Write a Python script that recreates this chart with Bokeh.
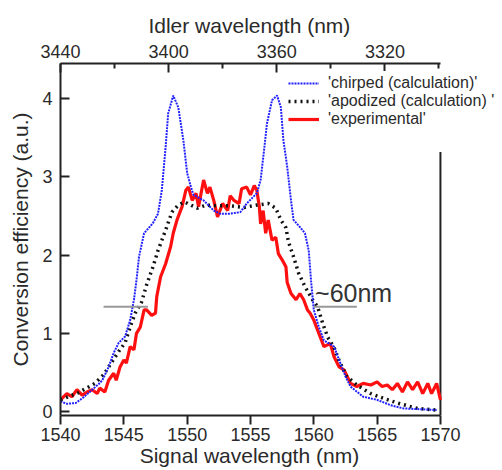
from bokeh.plotting import figure
from bokeh.models import Range1d, LinearAxis, FixedTicker, Legend, LegendItem, Label
from bokeh.embed import file_html
from bokeh.resources import INLINE

# ---- data ----
chirped_x = [1540.0, 1540.5, 1541.2, 1541.8, 1542.5, 1543.0, 1543.3, 1543.8, 1544.2, 1544.6,
             1545.1, 1545.5, 1545.8, 1546.0, 1546.2, 1546.6, 1547.3, 1547.7, 1548.0, 1548.3,
             1548.5, 1548.9, 1549.3, 1549.7, 1550.0, 1550.3, 1550.5, 1551.3, 1552.1, 1552.6,
             1553.4, 1554.2, 1554.7, 1555.5, 1555.8, 1556.1, 1556.3, 1556.7, 1557.1, 1557.4,
             1557.6, 1557.9, 1558.2, 1558.4, 1558.9, 1559.3, 1559.6, 1559.8, 1560.0, 1560.4,
             1560.8, 1561.6, 1562.0, 1562.5, 1562.9, 1563.9, 1565.0, 1566.1, 1567.1, 1568.5,
             1569.7]
chirped_y = [0.13, 0.10, 0.11, 0.18, 0.28, 0.35, 0.40, 0.57, 0.75, 0.88,
             0.96, 1.17, 1.43, 1.68, 1.98, 2.28, 2.41, 2.53, 2.83, 3.38,
             3.81, 4.04, 3.89, 3.47, 3.05, 2.87, 2.77, 2.70, 2.57, 2.53,
             2.53, 2.55, 2.66, 2.79, 2.96, 3.38, 3.68, 3.98, 4.04, 3.89,
             3.47, 3.13, 2.70, 2.45, 2.36, 2.28, 2.06, 1.64, 1.30, 1.08,
             0.91, 0.83, 0.66, 0.45, 0.32, 0.19, 0.15, 0.08, 0.04, 0.03,
             0.02]

apodized_x = [1540.0, 1541.4, 1542.7, 1543.4, 1543.8, 1544.6, 1545.1, 1545.5, 1545.9, 1546.4,
              1546.8, 1547.3, 1547.7, 1548.3, 1548.8, 1549.3, 1549.8, 1550.3, 1550.8, 1551.5,
              1552.5, 1553.5, 1554.5, 1555.5, 1556.4, 1557.0, 1557.4, 1557.8, 1558.0, 1558.4,
              1558.8, 1559.3, 1559.9, 1560.3, 1560.7, 1561.1, 1561.6, 1562.0, 1562.6, 1563.4,
              1564.5, 1565.5, 1566.6, 1568.2, 1569.7]
apodized_y = [0.15, 0.24, 0.36, 0.47, 0.57, 0.77, 0.88, 1.08, 1.26, 1.40,
              1.62, 1.85, 2.06, 2.32, 2.55, 2.64, 2.68, 2.64, 2.60, 2.64,
              2.63, 2.63, 2.61, 2.64, 2.66, 2.60, 2.45, 2.35, 2.17, 1.98,
              1.77, 1.60, 1.43, 1.34, 1.13, 0.95, 0.82, 0.65, 0.45, 0.34,
              0.23, 0.17, 0.11, 0.04, 0.02]

exp_x = [1540.0, 1540.5, 1540.9, 1541.3, 1541.7, 1542.1, 1542.5, 1542.9, 1543.1, 1543.5,
         1543.8, 1544.2, 1544.4, 1544.7, 1545.0, 1545.2, 1545.5, 1545.8, 1546.0, 1546.3,
         1546.6, 1546.8, 1547.2, 1547.5, 1547.6, 1547.9, 1548.3, 1548.7, 1548.9, 1549.2,
         1549.6, 1549.9, 1550.1, 1550.4, 1550.7, 1550.9, 1551.3, 1551.6, 1551.8, 1552.1,
         1552.4, 1552.8, 1553.2, 1553.4, 1553.7, 1554.1, 1554.3, 1554.7, 1555.0, 1555.3,
         1555.5, 1555.7, 1555.8, 1556.0, 1556.2, 1556.4, 1556.7, 1557.0, 1557.2, 1557.5,
         1557.8, 1557.9, 1558.2, 1558.6, 1558.9, 1559.2, 1559.5, 1559.7, 1560.0, 1560.4,
         1560.8, 1561.3, 1561.6, 1562.0, 1562.4, 1562.9, 1563.4, 1563.9, 1564.5, 1565.0,
         1565.4, 1565.8, 1566.2, 1566.6, 1567.0, 1567.4, 1567.8, 1568.2, 1568.6, 1569.0,
         1569.3, 1569.7, 1570.0]
exp_y = [0.15, 0.23, 0.19, 0.28, 0.21, 0.25, 0.28, 0.23, 0.30, 0.25,
         0.40, 0.49, 0.40, 0.57, 0.66, 0.62, 0.83, 0.79, 1.00, 1.08,
         1.30, 1.30, 1.23, 1.26, 1.47, 1.72, 1.89, 2.11, 2.28, 2.45,
         2.62, 2.83, 2.87, 2.70, 2.79, 2.62, 2.96, 2.79, 2.87, 2.70,
         2.49, 2.66, 2.57, 2.76, 2.70, 2.66, 2.85, 2.87, 2.77, 2.89,
         2.83, 2.62, 2.40, 2.57, 2.28, 2.45, 2.19, 2.23, 2.02, 1.94,
         1.85, 1.65, 1.51, 1.43, 1.51, 1.43, 1.30, 1.26, 1.17, 1.00,
         0.83, 0.87, 0.70, 0.57, 0.53, 0.36, 0.32, 0.36, 0.34, 0.38,
         0.32, 0.34, 0.28, 0.36, 0.25, 0.38, 0.28, 0.38, 0.23, 0.36,
         0.23, 0.36, 0.15]

signal_ticks = [1540, 1545, 1550, 1555, 1560, 1565, 1570]
idler_ticks = [3440, 3400, 3360, 3320]
idler_minor = [3420, 3380, 3340, 3300]
y_ticks = [0, 1, 2, 3, 4]

series_labels = ["'chirped (calculation)'", "'apodized (calculation) '", "'experimental'"]
x_title = "Signal wavelength (nm)"
x2_title = "Idler wavelength (nm)"
y_title = "Conversion efficiency (a.u.)"

# FWHM marker
fwhm_level = 1.34
fwhm_left = [1543.4, 1546.9]
fwhm_right = [1560.0, 1563.4]
fwhm_text = "~60nm"

# ---- layout / style ----
FONT = "Liberation Sans"
TXT = "#2a2a2a"
AX = "#222222"
X_LO, X_HI = 1540, 1570          # axis extent of the signal scale
X_VIEW_HI = 1574.9               # frame reaches the window edge (room for the legend)
IDLER_LO, IDLER_HI = 3440, 3299.4
IDLER_VIEW_HI = 3276.5
Y_LO, Y_HI = -0.05, 4.45
RIGHT_EDGE_TOP = 3.32            # right frame line is hidden behind the legend above this
PAD = "\u00a0" * 11              # re-centres the axis titles over the drawn axis part

p = figure(width=502, height=470, x_range=Range1d(X_LO, X_VIEW_HI), y_range=Range1d(Y_LO, Y_HI),
           output_backend="svg", toolbar_location=None)
p.min_border_left = 60
p.min_border_right = 0
p.min_border_top = 63
p.min_border_bottom = 55
p.xgrid.visible = False
p.ygrid.visible = False
p.outline_line_alpha = 0
p.background_fill_color = "white"
p.border_fill_color = "white"

# right frame line
p.segment(x0=[X_HI], y0=[Y_LO], x1=[X_HI], y1=[RIGHT_EDGE_TOP], line_color=AX, line_width=2)

# data
r_exp = p.line(exp_x, exp_y, line_color="#ff1010", line_width=3.2)
r_apo = p.line(apodized_x, apodized_y, line_color="#111111", line_width=3.5, line_dash="2 4")
r_chi = p.line(chirped_x, chirped_y, line_color="#2020ff", line_width=2, line_dash="2 1")

# FWHM marker lines
p.line(fwhm_left, [fwhm_level, fwhm_level], line_color="#999999", line_width=2)
p.line(fwhm_right, [fwhm_level, fwhm_level], line_color="#999999", line_width=2)
p.add_layout(Label(x=1560.1, y=1.51, text=fwhm_text, text_font=FONT, text_font_size="25px",
                   text_color="#333333", text_baseline="alphabetic", text_align="left"))

# bottom axis
xa = p.xaxis[0]
xa.ticker = FixedTicker(ticks=signal_ticks)
xa.bounds = (X_LO, X_HI)
xa.major_tick_in = 0
xa.major_tick_out = 9
xa.minor_tick_in = 0
xa.minor_tick_out = 0
xa.axis_line_width = 2
xa.axis_line_color = AX
xa.major_tick_line_width = 2
xa.major_tick_line_color = AX
xa.major_label_text_font = FONT
xa.major_label_text_font_size = "18px"
xa.major_label_text_color = TXT
xa.major_label_standoff = 3
xa.axis_label = x_title + PAD
xa.axis_label_text_font = FONT
xa.axis_label_text_font_size = "21px"
xa.axis_label_text_font_style = "normal"
xa.axis_label_text_color = TXT
xa.axis_label_standoff = 0

# left axis
ya = p.yaxis[0]
ya.ticker = FixedTicker(ticks=y_ticks)
ya.major_tick_in = 9
ya.major_tick_out = 0
ya.minor_tick_in = 0
ya.minor_tick_out = 0
ya.axis_line_width = 2
ya.axis_line_color = AX
ya.major_tick_line_width = 2
ya.major_tick_line_color = AX
ya.major_label_text_font = FONT
ya.major_label_text_font_size = "18px"
ya.major_label_text_color = TXT
ya.major_label_standoff = 8
ya.axis_label = y_title
ya.axis_label_text_font = FONT
ya.axis_label_text_font_size = "21px"
ya.axis_label_text_font_style = "normal"
ya.axis_label_text_color = TXT
ya.axis_label_standoff = 7

# top axis (idler)
p.extra_x_ranges = {"idler": Range1d(IDLER_LO, IDLER_VIEW_HI)}
ta = LinearAxis(x_range_name="idler", ticker=FixedTicker(ticks=idler_ticks, minor_ticks=idler_minor))
ta.bounds = (IDLER_HI, IDLER_LO)
ta.major_tick_in = 9
ta.major_tick_out = 0
ta.minor_tick_in = 5
ta.minor_tick_out = 0
ta.axis_line_width = 2
ta.axis_line_color = AX
ta.major_tick_line_width = 2
ta.minor_tick_line_width = 2
ta.major_tick_line_color = AX
ta.minor_tick_line_color = AX
ta.major_label_text_font = FONT
ta.major_label_text_font_size = "18px"
ta.major_label_text_color = TXT
ta.major_label_standoff = 6
ta.axis_label = x2_title + PAD
ta.axis_label_text_font = FONT
ta.axis_label_text_font_size = "21px"
ta.axis_label_text_font_style = "normal"
ta.axis_label_text_color = TXT
ta.axis_label_standoff = 5
p.add_layout(ta, "above")

legend = Legend(items=[LegendItem(label=series_labels[0], renderers=[r_chi]),
                       LegendItem(label=series_labels[1], renderers=[r_apo]),
                       LegendItem(label=series_labels[2], renderers=[r_exp])],
                location=(225, 284))
legend.background_fill_color = "white"
legend.background_fill_alpha = 1
legend.border_line_alpha = 0
legend.label_text_font = FONT
legend.label_text_font_size = "16px"
legend.label_text_color = TXT
legend.glyph_width = 31
legend.glyph_height = 18
legend.label_height = 18
legend.label_standoff = 9
legend.spacing = 0
legend.padding = 3
legend.margin = 0
p.add_layout(legend, "center")

open("out.html", "w").write(file_html(p, INLINE))
